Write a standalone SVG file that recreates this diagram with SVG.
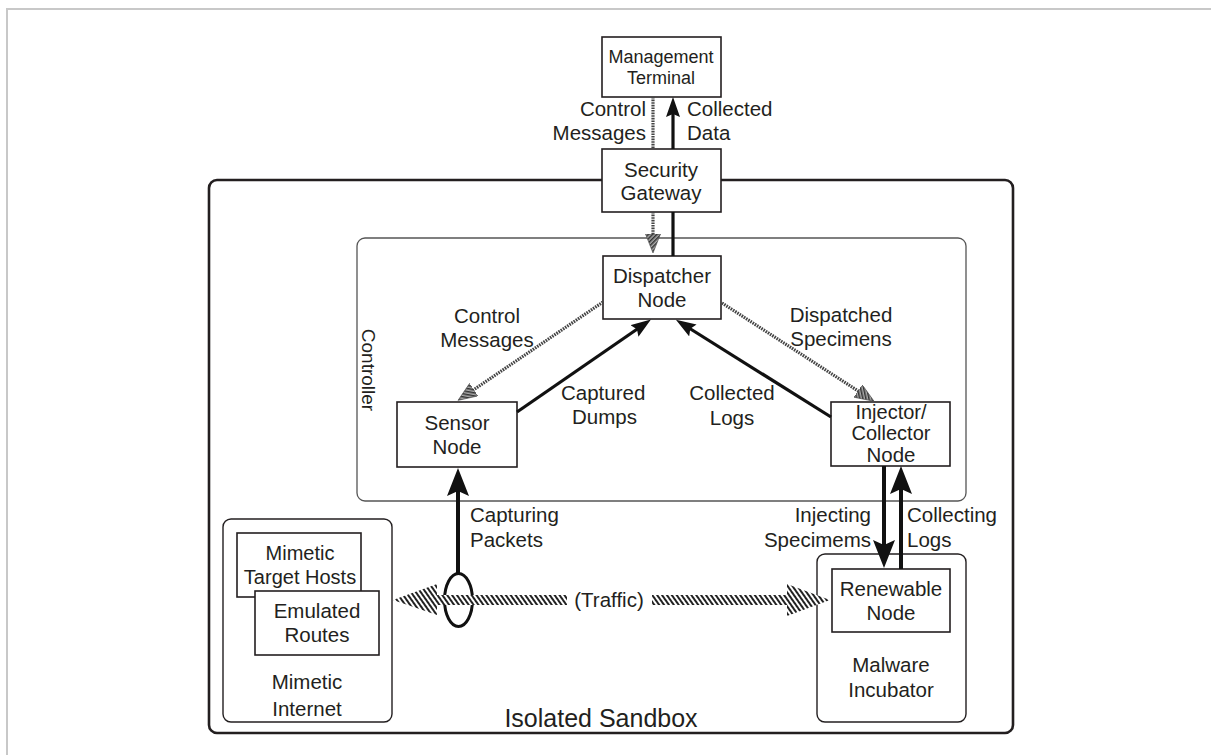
<svg xmlns="http://www.w3.org/2000/svg" width="1211" height="755" viewBox="0 0 1211 755">
<defs>
<style>
text{font-family:"Liberation Sans",Arial,Helvetica,sans-serif;fill:#231f20;}
.lbl{font-size:20.5px;}
.mid{text-anchor:middle;}
.end{text-anchor:end;}
.box{fill:#fff;stroke:#231f20;stroke-width:1.6;}
.grp{fill:#fff;stroke:#231f20;stroke-width:1.4;}
.solid{stroke:#111;fill:none;}
.hatch{stroke:#444;stroke-width:3.2;stroke-dasharray:1.6 1;fill:none;}
</style>
<pattern id="stripes" patternUnits="userSpaceOnUse" width="4" height="4" patternTransform="rotate(-35)">
<rect width="4" height="4" fill="#fff"/>
<rect width="2" height="4" fill="#222"/>
</pattern>
<pattern id="stripesG" patternUnits="userSpaceOnUse" width="3" height="3" patternTransform="rotate(-45)">
<rect width="3" height="3" fill="#aaa"/>
<rect width="1.5" height="3" fill="#333"/>
</pattern>
<marker id="ah" markerUnits="userSpaceOnUse" markerWidth="22" markerHeight="16" refX="14" refY="7" orient="auto">
<path d="M0,0 L20,7 L0,14 L3,7 z" fill="#111"/>
</marker>
<marker id="ahBig" markerUnits="userSpaceOnUse" markerWidth="30" markerHeight="24" refX="20" refY="11" orient="auto">
<path d="M0,0 L28,11 L0,22 L5,11 z" fill="#111"/>
</marker>
<marker id="ahH" markerUnits="userSpaceOnUse" markerWidth="22" markerHeight="16" refX="13" refY="7.5" orient="auto">
<path d="M0,0 L19,7.5 L0,15 z" fill="url(#stripesG)" stroke="#444" stroke-width="0.6"/>
</marker>
</defs>
<rect width="1211" height="755" fill="#fff"/>
<!-- page frame -->
<path d="M7,755 L7,9 L1211,9" fill="none" stroke="#c8c8c8" stroke-width="2"/>

<g id="isolated-sandbox">
<rect x="209" y="180" width="804" height="553" rx="8" fill="#fff" stroke="#231f20" stroke-width="2.6"/>
<text x="601" y="727" class="mid" font-size="25">Isolated Sandbox</text>
</g>

<g id="controller">
<rect x="357" y="238" width="609" height="263" rx="8" fill="#fff" stroke="#555" stroke-width="1.3"/>
<text transform="translate(362,370) rotate(90)" class="mid" font-size="19">Controller</text>
</g>

<g id="mimetic-internet">
<rect x="223" y="519" width="169" height="203" rx="8" class="grp"/>
<text x="307" y="689" class="lbl mid">Mimetic</text>
<text x="307" y="716" class="lbl mid">Internet</text>
</g>
<g id="mimetic-target-hosts">
<rect x="237" y="533" width="124" height="64" class="box"/>
<text x="300" y="560" class="mid" font-size="20">Mimetic</text>
<text x="300" y="584" class="mid" font-size="20">Target Hosts</text>
</g>
<g id="emulated-routes">
<rect x="255" y="591" width="124" height="64" class="box"/>
<text x="317" y="618" class="lbl mid">Emulated</text>
<text x="317" y="642" class="lbl mid">Routes</text>
</g>

<g id="malware-incubator">
<rect x="817" y="554" width="149" height="168" rx="8" class="grp"/>
<text x="891" y="672" class="lbl mid">Malware</text>
<text x="891" y="697" class="lbl mid">Incubator</text>
</g>
<g id="renewable-node">
<rect x="832" y="569" width="118" height="63" class="box"/>
<text x="891" y="596" class="lbl mid">Renewable</text>
<text x="891" y="620" class="lbl mid">Node</text>
</g>

<g id="management-terminal">
<rect x="602" y="37" width="119" height="60" class="box"/>
<text x="661" y="63" class="mid" font-size="18">Management</text>
<text x="661" y="84" class="mid" font-size="18">Terminal</text>
</g>

<g id="security-gateway">
<rect x="602" y="149" width="119" height="63" class="box"/>
<text x="661" y="177" class="lbl mid">Security</text>
<text x="661" y="200" class="lbl mid">Gateway</text>
</g>

<g id="dispatcher-node">
<rect x="603" y="256" width="118" height="63" class="box"/>
<text x="662" y="283" class="lbl mid">Dispatcher</text>
<text x="662" y="307" class="lbl mid">Node</text>
</g>

<g id="sensor-node">
<rect x="397" y="402" width="120" height="65" class="box"/>
<text x="457" y="430" class="lbl mid">Sensor</text>
<text x="457" y="454" class="lbl mid">Node</text>
</g>

<g id="injector-collector-node">
<rect x="831" y="402" width="119" height="64" class="box"/>
<text x="891" y="419" class="mid" font-size="20">Injector/</text>
<text x="891" y="440" class="mid" font-size="20">Collector</text>
<text x="891" y="462" class="lbl mid">Node</text>
</g>

<g id="connectors">
<!-- Control messages: terminal to dispatcher -->
<line x1="653" y1="97" x2="653" y2="149" class="hatch"/>
<line x1="653" y1="212" x2="653" y2="247" class="hatch" marker-end="url(#ahH)"/>
<!-- Collected data -->
<line x1="673" y1="256" x2="673" y2="212" class="solid" stroke-width="3.2"/>
<line x1="673" y1="149" x2="673" y2="103" class="solid" stroke-width="3.2" marker-end="url(#ah)"/>
<!-- Control messages to sensor -->
<line x1="603" y1="302" x2="463" y2="397" class="hatch" marker-end="url(#ahH)"/>
<!-- Captured dumps -->
<line x1="517" y1="412" x2="646" y2="323" class="solid" stroke-width="3.2" marker-end="url(#ah)"/>
<!-- Collected logs -->
<line x1="831" y1="417" x2="681" y2="323" class="solid" stroke-width="3.2" marker-end="url(#ah)"/>
<!-- Dispatched specimens -->
<line x1="722" y1="303" x2="869" y2="398" class="hatch" marker-end="url(#ahH)"/>
<!-- Capturing packets -->
<line x1="458" y1="573" x2="458" y2="476" class="solid" stroke-width="4" marker-end="url(#ahBig)"/>
<ellipse cx="458.5" cy="600" rx="14" ry="26.5" fill="none" stroke="#111" stroke-width="3"/>
<!-- Injecting specimens -->
<line x1="884" y1="466" x2="884" y2="560" class="solid" stroke-width="4" marker-end="url(#ahBig)"/>
<!-- Collecting logs -->
<line x1="901" y1="569" x2="901" y2="474" class="solid" stroke-width="4" marker-end="url(#ahBig)"/>
<!-- Traffic -->
<path d="M393,600 L437,584 L437,595 L567,595 L567,605 L437,605 L437,615 z" fill="url(#stripes)"/>
<path d="M652,595 L787,595 L787,584 L830,600 L787,616 L787,605 L652,605 z" fill="url(#stripes)"/>
</g>

<g id="labels">
<text x="646" y="116" class="lbl end">Control</text>
<text x="646" y="140" class="lbl end">Messages</text>
<text x="687" y="116" class="lbl">Collected</text>
<text x="687" y="140" class="lbl">Data</text>
<text x="487" y="323" class="lbl mid">Control</text>
<text x="487" y="347" class="lbl mid">Messages</text>
<text x="561" y="400" class="lbl">Captured</text>
<text x="572" y="424" class="lbl">Dumps</text>
<text x="732" y="400" class="lbl mid">Collected</text>
<text x="732" y="425" class="lbl mid">Logs</text>
<text x="841" y="322" class="lbl mid">Dispatched</text>
<text x="841" y="346" class="lbl mid">Specimens</text>
<text x="470" y="522" class="lbl">Capturing</text>
<text x="470" y="547" class="lbl">Packets</text>
<text x="871" y="522" class="lbl end">Injecting</text>
<text x="871" y="547" class="lbl end">Specimems</text>
<text x="907" y="522" class="lbl">Collecting</text>
<text x="907" y="547" class="lbl">Logs</text>
<text x="609" y="607" class="lbl mid">(Traffic)</text>
</g>
</svg>
